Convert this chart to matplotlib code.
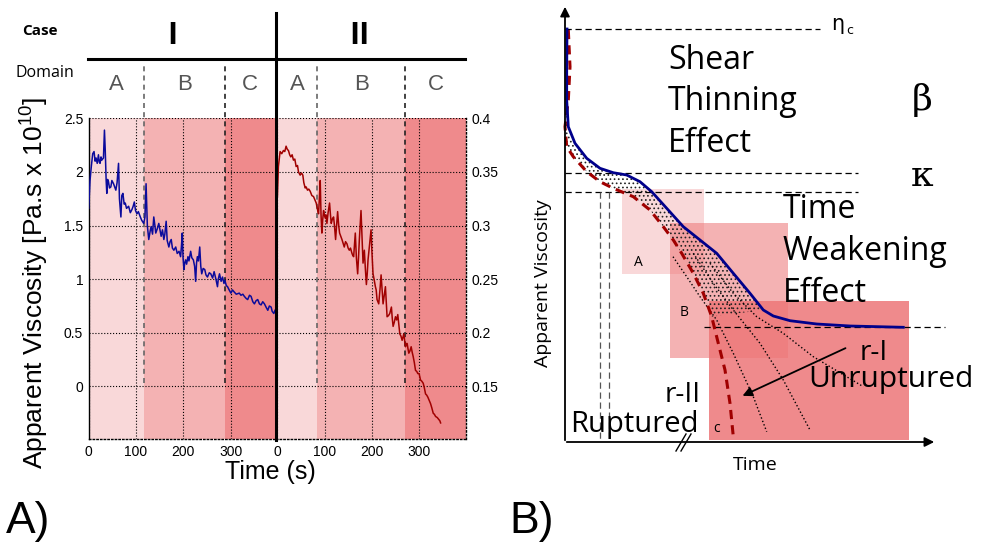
import matplotlib.pyplot as plt
from matplotlib.patches import Polygon, Rectangle

plt.rcParams['font.family'] = ['Liberation Sans', 'DejaVu Sans']
plt.rcParams['mathtext.fontset'] = 'custom'
plt.rcParams['mathtext.rm'] = 'Liberation Sans'
plt.rcParams['hatch.linewidth'] = 0.7

# ---- panel A data: case I (blue, left axis) ----
t_I = [0, 2.8, 5.5, 8.5, 11.3, 13.5, 15.6, 18, 20.6, 22.5,
       24.1, 26, 27.7, 31.2, 33.3, 35, 36.9, 38.3, 40, 41.8,
       44, 46.8, 49, 52.5, 55, 57.4, 60, 63.1, 65, 68.1,
       70, 72.3, 75, 77.3, 80, 84.4, 88, 91.5, 94, 96.5,
       99, 102.1, 105, 109.2, 112, 116.3, 119, 121.3, 124, 127,
       130, 132, 135, 137.6, 140, 141.8, 145, 148.2, 151, 153.2,
       156, 158.9, 161, 163.8, 166, 169.5, 172, 174.5, 177, 180.1,
       184, 187.2, 191, 194.3, 196, 197.9, 199.5, 201.4, 203, 205,
       207, 209.9, 212, 215.6, 218, 221.3, 224, 226.2, 228, 229.8,
       232, 234.8, 237, 239, 242, 245.4, 248, 251.1, 255, 258.2,
       262, 265.2, 269, 272.3, 274, 276.6, 280, 283, 286, 287.9,
       291, 293.6, 297, 300.7, 304, 307.8, 312, 318.4, 322, 326,
       329.1, 333, 336.2, 340, 343.3, 347, 350.4, 354, 357.4, 361,
       364.5, 368, 371.6, 375, 378.7, 382, 385.8, 388, 391.5, 394]
v_I = [1.66, 1.92, 2.05, 2.17, 2.19, 2.10, 2.13, 2.08, 2.16, 2.09,
       2.08, 2.14, 2.11, 2.13, 2.39, 2.20, 1.92, 1.80, 1.93, 1.91,
       1.85, 1.86, 1.92, 1.89, 1.86, 1.83, 1.90, 2.08, 1.75, 1.58,
       1.78, 1.80, 1.70, 1.71, 1.66, 1.68, 1.62, 1.65, 1.68, 1.72,
       1.64, 1.61, 1.63, 1.58, 1.55, 1.52, 1.58, 1.89, 1.50, 1.37,
       1.45, 1.49, 1.42, 1.58, 1.50, 1.43, 1.47, 1.52, 1.45, 1.40,
       1.46, 1.37, 1.42, 1.54, 1.36, 1.30, 1.35, 1.37, 1.29, 1.27,
       1.30, 1.24, 1.26, 1.21, 1.30, 1.43, 1.20, 1.09, 1.15, 1.18,
       1.14, 1.21, 1.17, 1.26, 1.20, 1.18, 1.12, 0.98, 1.15, 1.21,
       1.17, 1.30, 1.12, 1.05, 1.10, 1.09, 1.04, 1.02, 1.06, 1.05,
       1.01, 1.07, 1.00, 0.93, 1.00, 1.05, 0.98, 1.02, 0.96, 0.99,
       0.94, 0.93, 0.90, 0.87, 0.90, 0.88, 0.86, 0.87, 0.85, 0.86,
       0.84, 0.82, 0.81, 0.85, 0.84, 0.79, 0.77, 0.80, 0.81, 0.77,
       0.76, 0.79, 0.77, 0.74, 0.71, 0.75, 0.74, 0.70, 0.68, 0.71]

# ---- panel A data: case II (red, right axis) ----
t_II = [0, 2.1, 5.7, 9.2, 12.8, 15.6, 18.4, 21, 23.4, 26,
        28.4, 31.2, 34, 36.9, 39.7, 42.6, 44.7, 48.2, 51.1, 53.9,
        56, 58.9, 61, 63.8, 66.5, 69.5, 73, 76.6, 79.5, 82.3,
        85, 87.2, 89, 90.8, 92.5, 94.3, 96, 97.9, 99.5, 101.4,
        103, 105, 107.5, 110.6, 112.5, 114.2, 116.5, 119.1, 121, 123.4,
        125.5, 127.7, 130, 131.9, 134.5, 136.9, 139, 141.8, 144.5, 147.5,
        150, 152.5, 155, 158.2, 160, 161.7, 163.5, 165.2, 167.5, 170.2,
        172, 173.8, 175.5, 177.3, 179.5, 181.6, 184.4, 186.5, 188.7, 190.5,
        192.2, 195, 198.6, 200.5, 202.8, 205, 207.8, 209.5, 211.3, 214.9,
        217.5, 219.9, 222, 224.1, 226.5, 229.1, 230.8, 232.6, 235.5, 238.3,
        241.8, 243.5, 245.4, 248, 250.4, 253, 255.3, 257.5, 259.6, 262,
        264.5, 268.1, 270, 271.6, 273.5, 275.2, 277, 278.7, 281, 283.7,
        285.8, 287.9, 290.5, 292.9, 295.5, 297.9, 300.5, 303.5, 306, 309.2,
        311.5, 314.2, 316.5, 319.1, 322, 324.8, 327.5, 330.5, 333, 335.5,
        339, 342.6, 344.5, 346.1]
v_II = [0.327, 0.355, 0.369, 0.367, 0.370, 0.369, 0.374, 0.371, 0.370, 0.366,
        0.364, 0.366, 0.361, 0.362, 0.355, 0.356, 0.350, 0.347, 0.349, 0.347,
        0.340, 0.335, 0.336, 0.333, 0.334, 0.332, 0.328, 0.327, 0.324, 0.321,
        0.315, 0.311, 0.325, 0.342, 0.310, 0.293, 0.305, 0.314, 0.310, 0.307,
        0.310, 0.302, 0.312, 0.321, 0.310, 0.302, 0.306, 0.308, 0.300, 0.287,
        0.300, 0.313, 0.300, 0.293, 0.290, 0.287, 0.284, 0.280, 0.285, 0.283,
        0.279, 0.277, 0.279, 0.274, 0.272, 0.271, 0.282, 0.293, 0.270, 0.255,
        0.270, 0.287, 0.300, 0.314, 0.290, 0.265, 0.277, 0.260, 0.245, 0.255,
        0.268, 0.280, 0.296, 0.275, 0.255, 0.250, 0.243, 0.240, 0.231, 0.227,
        0.240, 0.254, 0.240, 0.227, 0.235, 0.243, 0.230, 0.215, 0.216, 0.218,
        0.224, 0.214, 0.206, 0.210, 0.215, 0.212, 0.217, 0.208, 0.199, 0.197,
        0.193, 0.199, 0.192, 0.187, 0.190, 0.190, 0.185, 0.181, 0.183, 0.187,
        0.182, 0.178, 0.172, 0.165, 0.164, 0.162, 0.162, 0.156, 0.155, 0.153,
        0.149, 0.143, 0.142, 0.140, 0.137, 0.134, 0.130, 0.125, 0.124, 0.122,
        0.121, 0.119, 0.118, 0.116]

bounds_I = [0, 117, 288, 395]
bounds_II = [0, 84, 271, 400]
domains = ['A', 'B', 'C']
yticks_I = [0, 0.5, 1, 1.5, 2, 2.5]
yticks_II = [0.15, 0.2, 0.25, 0.3, 0.35, 0.4]
xticks = [0, 100, 200, 300]

shade = '#ED7678'
shade_alpha = [0.28, 0.56, 0.85]

# ---- panel B schematic, traced in figure pixels ----
blue_x = [567, 566.7, 566.7, 568.3, 575, 586.7, 600, 613.3, 626.7, 640, 651.7, 666.7,
          683.3, 700, 716.7, 733.3, 750, 763.3, 773.3, 790, 816.7, 850, 903.3]
blue_y = [29, 70, 100, 126.7, 143.3, 158.3, 168.3, 172.7, 175, 181.7, 191.7, 208.3,
          226.7, 240, 253.3, 273.3, 293.3, 310, 316, 320.7, 324, 326, 327.3]
red_x = [568.3, 570, 568.3, 565, 566.7, 573.3, 586.7, 600, 613.3, 633.3, 650, 663.3,
         673.3, 681.7, 693.3, 703.3, 711.7, 718.3, 725, 730, 733.3]
red_y = [30, 66.7, 100, 126.7, 146.7, 156.7, 171.7, 181.7, 188.3, 196.7, 210, 226.7,
         240, 253.3, 273.3, 293.3, 316.7, 343.3, 370, 403.3, 436.7]
fans = [
    ([673, 686.7, 700, 716.7, 733.3, 753.3, 766.7], [256.7, 276.7, 296.7, 320, 353.3, 396.7, 431.7]),
    ([693.3, 713.3, 733.3, 760, 783.3, 810], [253.3, 283.3, 310, 343.3, 380, 430]),
    ([710, 733.3, 756.7, 783.3, 813.3, 863.3], [263.3, 293.3, 316.7, 333.3, 356.7, 386.7]),
]
boxes = [('A', 621.7, 189, 704, 274.3, 638, 262),
         ('B', 670, 222.7, 787.7, 358.3, 684, 313),
         ('c', 709, 301, 908.7, 440, 717, 428)]

fig = plt.figure(figsize=(9.81, 5.45), dpi=100)
W, H = 981, 545

axI = fig.add_axes([88.7 / W, (H - 439) / H, 186.8 / W, 320.7 / H])
axII = fig.add_axes([276 / W, (H - 439) / H, 190 / W, 320.7 / H])

for ax, b, t, v, col, lim in [(axI, bounds_I, t_I, v_I, '#0b0b9c', (-0.49, 2.5)),
                              (axII, bounds_II, t_II, v_II, '#a00000', (0.101, 0.4))]:
    for k in range(3):
        ax.axvspan(b[k], b[k + 1], color=shade, alpha=shade_alpha[k], lw=0)
        ax.text((b[k] + b[k + 1]) / 2, 1.104, domains[k], transform=ax.get_xaxis_transform(),
                ha='center', va='center', fontsize=16, color='#555555')
    for k, c in [(1, '#666666'), (2, '#222222')]:
        ax.axvline(b[k], ymin=0.175, ymax=1.166, clip_on=False, color=c, ls=(0, (3, 2.5)), lw=1.2)
    ax.plot(t, v, color=col, lw=1.1, zorder=3)
    ax.set_xlim(b[0] if ax is axI else -3, b[3])
    ax.set_ylim(*lim)
    ax.set_xticks(xticks)
    ax.grid(True, ls=':', color='k', lw=0.8)
    ax.tick_params(length=0, labelsize=10, pad=4)
    for s in ax.spines.values():
        s.set_linestyle(':')
        s.set_linewidth(1.0)
    ax.spines['top'].set_visible(False)

axI.set_yticks(yticks_I)
axI.set_yticklabels([f'{y:g}' for y in yticks_I])
axI.spines['right'].set_visible(False)
axI.spines['left'].set_linestyle('-')
axII.set_yticks(yticks_II)
axII.set_yticklabels([f'{y:g}' for y in yticks_II])
axII.yaxis.tick_right()
axII.spines['left'].set_visible(False)

# overlay in figure pixels
ax0 = fig.add_axes([0, 0, 1, 1])
ax0.set_xlim(0, W)
ax0.set_ylim(H, 0)
ax0.axis('off')

ax0.plot([275.5, 275.5], [13, 440], color='k', lw=2.2)
ax0.plot([88, 465], [58.7, 58.7], color='k', lw=2.2)
ax0.text(40, 31, 'Case', fontsize=11, fontweight='bold', ha='center', va='center', family='Open Sans')
ax0.text(45, 73, 'Domain', fontsize=11.5, ha='center', va='center', family='Open Sans')
ax0.text(172, 36, 'I', fontsize=22, fontweight='bold', ha='center', va='center', family='Open Sans')
ax0.text(359, 36, 'II', fontsize=22, fontweight='bold', ha='center', va='center', family='Open Sans')
ax0.text(34, 283, 'Apparent Viscosity [Pa.s x 10$^{10}$]', rotation=90, fontsize=19,
         ha='center', va='center')
ax0.text(270, 472, 'Time (s)', fontsize=18, ha='center', va='center')
ax0.text(28, 522, 'A)', fontsize=32, ha='center', va='center')
ax0.text(532, 522, 'B)', fontsize=32, ha='center', va='center')

# panel B
for lab, x0, y0, x1, y1, lx, ly in boxes:
    k = 'ABc'.index(lab)
    ax0.add_patch(Rectangle((x0, y0), x1 - x0, y1 - y0, color=shade, alpha=shade_alpha[k], lw=0))
    ax0.text(lx, ly, lab, fontsize=10, ha='center', va='center', family='Open Sans')

band = list(zip(blue_x[2:18], blue_y[2:18])) + list(zip(red_x[2:17], red_y[2:17]))[::-1]
ax0.add_patch(Polygon(band, closed=True, fill=False, hatch='....', edgecolor='#222222', lw=0))
for fx, fy in fans:
    ax0.plot(fx, fy, color='k', ls=':', lw=1.0)

for yl, x1 in [(29, 820), (172.7, 858), (191.7, 858)]:
    ax0.plot([565, x1], [yl, yl], color='k', ls=(0, (5, 3)), lw=0.9)
ax0.plot([704, 945], [327.3, 327.3], color='k', ls=(0, (5, 3)), lw=0.9)
for xv in [600, 609]:
    ax0.plot([xv, xv], [192, 442], color='#555555', ls=(0, (5, 3)), lw=0.9)

ax0.plot(red_x, red_y, color='#a00000', ls=(0, (3, 2)), lw=2.2)
ax0.plot(blue_x, blue_y, color='#00008b', lw=2.0)

ax0.annotate('', xy=(565, 4), xytext=(565, 443),
             arrowprops=dict(arrowstyle='-|>', color='k', lw=1.3, mutation_scale=14))
ax0.annotate('', xy=(937, 442), xytext=(564, 442),
             arrowprops=dict(arrowstyle='-|>', color='k', lw=1.3, mutation_scale=14))
for dx in [0, 5]:
    ax0.plot([676 + dx, 686 + dx], [451, 434], color='k', lw=1.0)
ax0.annotate('', xy=(740, 397), xytext=(848, 347),
             arrowprops=dict(arrowstyle='-|>', color='k', lw=1.3, mutation_scale=14))

big = dict(fontsize=23, family='Open Sans', va='baseline', ha='left')
for txt, yb in [('Shear', 69), ('Thinning', 110), ('Effect', 151.7)]:
    ax0.text(668, yb, txt, **big)
for txt, yb in [('Time', 218.3), ('Weakening', 259.5), ('Effect', 301.7)]:
    ax0.text(783, yb, txt, **big)
ax0.text(808, 386.7, 'Unruptured', fontsize=21.5, family='Open Sans', va='baseline', ha='left')
ax0.text(570, 431.7, 'Ruptured', fontsize=21, family='Open Sans', va='baseline', ha='left')
ax0.text(860, 360, 'r-I', fontsize=20, family='Open Sans', va='baseline', ha='left')
ax0.text(665, 401.7, 'r-II', fontsize=20, family='Open Sans', va='baseline', ha='left')
ax0.text(543, 283, 'Apparent Viscosity', rotation=90, fontsize=14, family='Open Sans',
         ha='center', va='center')
ax0.text(755, 465, 'Time', fontsize=14, family='Open Sans', ha='center', va='center')
ax0.text(838, 30, 'η', fontsize=15, family='DejaVu Sans', ha='center', va='baseline')
ax0.text(846, 34, 'c', fontsize=9, family='DejaVu Sans', ha='left', va='baseline')
ax0.text(922, 100, 'β', fontsize=26, family='DejaVu Serif', ha='center', va='center')
ax0.text(922, 176, 'κ', fontsize=26, family='DejaVu Serif', ha='center', va='center')

fig.savefig('out.png', dpi=100)
